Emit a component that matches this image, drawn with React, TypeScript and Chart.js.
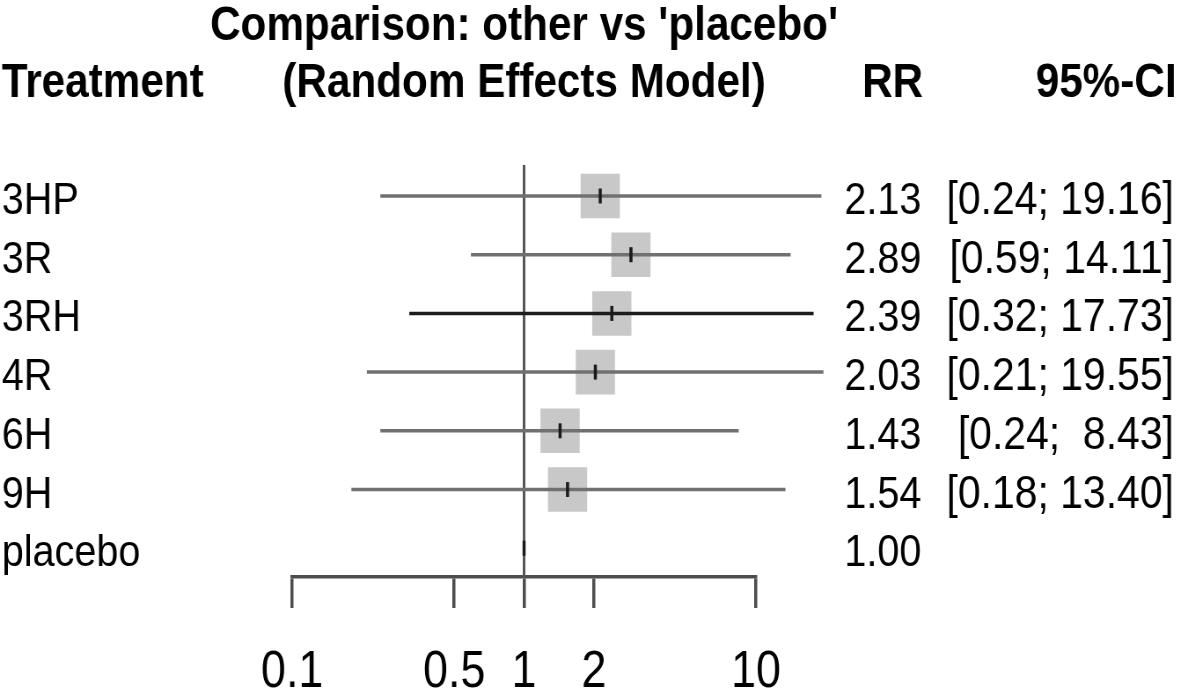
import React, { useEffect, useRef } from 'react';
import { Chart, registerables } from 'chart.js';

Chart.register(...registerables);

// ---- data ----
const treatments = ['3HP', '3R', '3RH', '4R', '6H', '9H', 'placebo'];
const rrValues = [2.13, 2.89, 2.39, 2.03, 1.43, 1.54, 1.0];
const ciLower: (number | null)[] = [0.24, 0.59, 0.32, 0.21, 0.24, 0.18, null];
const ciUpper: (number | null)[] = [19.16, 14.11, 17.73, 19.55, 8.43, 13.4, null];
const xTickValues = [0.1, 0.5, 1, 2, 10];
const referenceValue = 1;
const titleText = "Comparison: other vs 'placebo'";
const subtitleText = '(Random Effects Model)';
const headerTreatment = 'Treatment';
const headerRR = 'RR';
const headerCI = '95%-CI';

// ---- layout / style ----
const SQUASH = 0.88;
const W = Math.round(1180 / SQUASH);
const H = 691;
const FONT = '"Liberation Sans", Arial, Helvetica, sans-serif';
const AXIS_COLOR = '#4d4d4d';
const CI_COLOR = '#707070';
const CI_DARK = '#1c1c1c';
const SQUARE_COLOR = '#c8c8c8';

const fmtCI = (lo: number, up: number) =>
  `[${lo.toFixed(2)}; ${up.toFixed(2).padStart(5, ' ')}]`;

const textPlugin = {
  id: 'forestText',
  beforeDatasetsDraw(chart: any) {
    const { ctx, chartArea, scales } = chart;
    const x1 = scales.x.getPixelForValue(referenceValue);
    ctx.save();
    ctx.strokeStyle = '#555555';
    ctx.lineWidth = 3;
    ctx.beginPath();
    ctx.moveTo(x1, chartArea.top);
    ctx.lineTo(x1, chartArea.bottom);
    ctx.stroke();
    ctx.restore();
  },
  afterDraw(chart: any) {
    const { ctx, scales } = chart;
    const xs = scales.x;
    const ys = scales.y;
    const xc = xs.getPixelForValue(referenceValue);
    ctx.save();
    ctx.fillStyle = '#000';
    ctx.textBaseline = 'alphabetic';
    ctx.font = `bold 48px ${FONT}`;
    ctx.textAlign = 'center';
    ctx.fillText(titleText, xc, 40);
    ctx.fillText(subtitleText, xc, 97);
    ctx.textAlign = 'left';
    ctx.fillText(headerTreatment, 2, 97);
    ctx.textAlign = 'right';
    ctx.fillText(headerRR, 1049, 97);
    ctx.fillText(headerCI, 1337, 97);

    treatments.forEach((t, i) => {
      const y = ys.getPixelForValue(i) + 18;
      ctx.font = `45px ${FONT}`;
      ctx.textAlign = 'left';
      ctx.fillText(t, 2, y);
      ctx.textAlign = 'right';
      ctx.fillText(rrValues[i].toFixed(2), 1047, y);
      const lo = ciLower[i];
      const up = ciUpper[i];
      if (lo != null && up != null) {
        ctx.font = `46.5px ${FONT}`;
        ctx.fillText(fmtCI(lo, up), 1334, y);
      }
    });
    ctx.restore();
  },
};

export default function App() {
  const ref = useRef<HTMLCanvasElement | null>(null);

  useEffect(() => {
    document.body.style.margin = '0';
    const canvas = ref.current;
    if (!canvas) return;

    const rows = treatments.map((_, i) => i);
    const withCI = rows.filter((i) => ciLower[i] != null && ciUpper[i] != null);

    const ciDatasets = withCI.map((i) => ({
      label: `ci-${treatments[i]}`,
      data: [
        { x: ciLower[i] as number, y: i },
        { x: ciUpper[i] as number, y: i },
      ],
      showLine: true,
      borderColor: treatments[i] === '3RH' ? CI_DARK : CI_COLOR,
      borderWidth: 3.5,
      pointRadius: 0,
      clip: false,
      order: 2,
    }));

    const squares = {
      label: 'squares',
      data: withCI.map((i) => ({ x: rrValues[i], y: i })),
      pointStyle: 'rect',
      pointRadius: 31.5,
      pointHoverRadius: 31.5,
      backgroundColor: SQUARE_COLOR,
      pointBackgroundColor: SQUARE_COLOR,
      borderWidth: 0,
      pointBorderWidth: 0,
      clip: false,
      order: 3,
    };

    const estimates = {
      label: 'estimates',
      data: rows.map((i) => ({ x: rrValues[i], y: i })),
      pointStyle: 'line',
      pointRotation: 90,
      rotation: 90,
      pointRadius: 7.5,
      pointHoverRadius: 7.5,
      borderColor: '#1a1a1a',
      pointBorderColor: '#1a1a1a',
      borderWidth: 3.5,
      pointBorderWidth: 3.5,
      clip: false,
      order: 1,
    };

    const chart = new Chart(canvas, {
      type: 'scatter',
      data: { datasets: [squares as any, ...(ciDatasets as any[]), estimates as any] },
      options: {
        animation: false,
        responsive: false,
        maintainAspectRatio: false,
        devicePixelRatio: 1,
        events: [],
        layout: { padding: { left: 332, right: W - 859, top: 165, bottom: 0 } },
        plugins: { legend: { display: false }, tooltip: { enabled: false }, title: { display: false } },
        scales: {
          x: {
            type: 'logarithmic',
            position: 'bottom',
            min: 0.1,
            max: 10,
            afterBuildTicks: (scale: any) => {
              scale.ticks = xTickValues.map((v) => ({ value: v }));
            },
            afterFit: (scale: any) => {
              scale.height = H - 577;
            },
            border: { display: true, color: AXIS_COLOR, width: 3.5 },
            grid: {
              display: true,
              drawOnChartArea: false,
              drawTicks: true,
              tickLength: 31,
              color: AXIS_COLOR,
              lineWidth: 3.5,
            },
            ticks: {
              autoSkip: false,
              maxRotation: 0,
              minRotation: 0,
              padding: 34,
              color: '#000',
              font: { family: FONT, size: 51 },
              callback: (v: any) => String(Number(v)),
            },
          },
          y: {
            type: 'linear',
            display: false,
            reverse: true,
            min: -0.528,
            max: 6.49,
          },
        },
      },
      plugins: [textPlugin],
    });

    return () => chart.destroy();
  }, []);

  return (
    <div style={{ width: 1180, height: H, overflow: 'hidden', position: 'relative', background: '#fff' }}>
      <canvas
        ref={ref}
        width={W}
        height={H}
        style={{
          width: W,
          height: H,
          display: 'block',
          transform: `scaleX(${SQUASH})`,
          transformOrigin: '0 0',
        }}
      />
    </div>
  );
}
